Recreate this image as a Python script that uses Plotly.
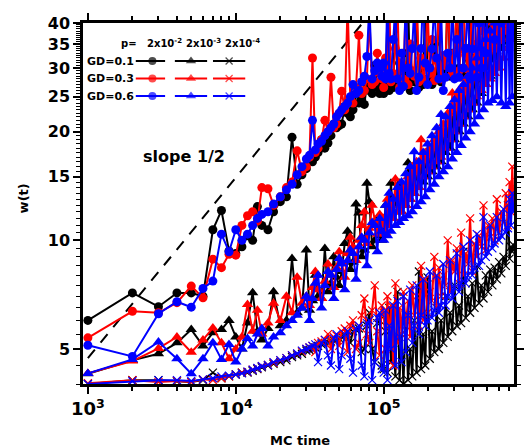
import plotly.graph_objects as go

# ---------------- data ----------------
T = [1000, 2000, 3000, 4000, 5000, 6000, 7000, 8000, 9000, 10000,
     11000, 12000, 13000, 14000, 15000, 16500, 18000, 20000, 22000, 24000,
     26000, 28000, 30000, 31500, 33000, 34500, 36000, 38000, 40000, 42000,
     44000, 46000, 48000, 50000, 52000, 54500, 57000, 59500, 62000, 65000,
     68000, 71000, 74000, 77000, 80000, 83500, 87000, 90500, 94000, 97000,
     100000, 103000, 106000, 109000, 112000, 116000, 120000, 124000, 128000, 132000,
     136000, 141000, 146000, 151000, 156000, 161000, 167000, 173000, 179000, 185000,
     191000, 198000, 205000, 212000, 220000, 228000, 236000, 244000, 253000, 262000,
     271000, 281000, 291000, 301000, 312000, 323000, 334000, 346000, 358000, 371000,
     384000, 397000, 411000, 426000, 441000, 457000, 473000, 490000, 507000, 525000,
     543000, 562000, 582000, 603000, 624000, 646000, 669000, 692000, 710000, 725000,
     740000, 755000]

# p = 2x10^-2 (circles)
W_GD01_P2 = [6.0, 7.15, 6.55, 7.15, 7.15, 7.0, 10.7, 12.1, 9.35, 9.2,
             9.6, 10.3, 10.0, 12.4, 11.0, 10.7, 12.0, 12.8, 13.2, 19.3,
             14.3, 15.2, 15.8, 16.8, 16.5, 17.0, 17.5, 19.0, 18.0, 18.6,
             19.5, 21.0, 20.5, 20.8, 21.0, 23.5, 22.5, 22.0, 23.0, 25.5,
             24.0, 24.5, 23.8, 27.0, 26.0, 25.5, 30.5, 26.5, 25.5, 27.0,
             25.5, 27.5, 42, 26.0, 29, 26.5, 45, 27.0, 31, 26.5,
             33, 27.0, 48, 26.0, 29, 27.5, 44, 26.5, 32, 27.0,
             50, 28.0, 30, 27.0, 35, 28.5, 46, 27.5, 31, 29.0,
             52, 28.5, 33, 29.5, 47, 30.0, 55, 29.0, 34, 28.5,
             45, 30.0, 32, 28.0, 48, 30.0, 28.0, 45, 30.5, 50,
             32, 46, 33, 50, 35, 48, 36, 52, 38, 50,
             40, 55]
W_GD03_P2 = [5.37, 6.36, 6.3, 6.72, 7.47, 6.93, 8.87, 8.4, 9.15, 9.1,
             11.0, 11.7, 12.0, 11.3, 14.0, 13.9, 12.5, 13.2, 14.0, 14.5,
             17.7, 15.5, 16.0, 17.0, 32.0, 17.5, 18.0, 19.0, 21.5, 20.0,
             28.3, 20.5, 21.0, 22.5, 25.9, 23.0, 45, 24.5, 24.0, 26.5,
             37, 25.5, 26.0, 28.0, 42, 27.0, 27.5, 33.0, 29.0, 28.0,
             26.5, 32, 28, 48, 27.5, 29.0, 34, 45, 26.5, 31,
             28.0, 46, 27.0, 35, 29.5, 28.5, 50, 27.5, 32, 28,
             30.5, 45, 29.0, 36, 27.7, 31.5, 45, 28, 32.5, 30.5,
             48, 31.5, 29, 33, 46, 29.5, 34, 47, 32.6, 30,
             31.8, 50, 30.5, 35, 45, 32, 38, 50, 33, 36,
             46, 34, 42, 50, 36, 40, 48, 38, 45, 50,
             40, 48]
W_GD06_P2 = [5.12, 4.77, 6.26, 6.76, 6.53, 7.36, 7.71, 10.4, 9.3, 10.7,
             10.0, 10.4, 11.0, 11.5, 11.8, 12.0, 12.6, 13.2, 13.8, 14.3,
             15.2, 16.0, 16.8, 17.2, 21.5, 17.8, 18.5, 18.8, 19.5, 20.0,
             20.5, 21.0, 22.0, 22.5, 23.0, 23.5, 24.0, 25.0, 27.0, 25.5,
             26.0, 27.5, 28.5, 32.3, 45, 28.0, 29.5, 31.0, 30.0, 28.5,
             31, 28, 50, 29, 28, 36, 45, 28, 26, 33,
             26.7, 48, 30, 29, 34, 45, 26, 28.3, 34, 50,
             31, 27, 30, 33.9, 46, 32, 28, 45, 26, 28.3,
             33, 30, 47, 28, 36, 28.3, 50, 30, 34, 45,
             28, 33.9, 48, 28.3, 40, 30, 48, 33, 45, 42,
             50, 36, 44, 48, 40, 46, 50, 42, 45, 48,
             44, 50]

# p = 2x10^-3 (triangles)
W_GD01_P3 = [4.27, 4.65, 4.85, 5.2, 5.66, 5.1, 5.55, 5.66, 6.0, 5.4,
             5.0, 5.9, 7.16, 5.6, 5.3, 5.7, 7.2, 5.8, 6.0, 8.9,
             6.3, 6.5, 9.4, 6.4, 6.8, 8.0, 7.0, 6.9, 9.5, 7.2,
             7.6, 9.0, 7.9, 7.5, 8.2, 9.8, 10.6, 8.3, 8.7, 12.6,
             11.9, 9.0, 9.4, 14.4, 12.8, 9.6, 10.0, 11.5, 10.3, 10.0,
             10.5, 12.5, 11.0, 12.0, 14.4, 11.5, 13.0, 12.0, 14.4, 12.0,
             13.5, 12.5, 16.4, 13.0, 15.0, 13.5, 15.5, 14.0, 16.5, 14.5,
             17.0, 15.0, 17.5, 15.5, 18.0, 16.0, 19.0, 16.5, 19.5, 17.5,
             21.0, 18.0, 22.5, 19.0, 23.5, 20.0, 24.5, 21.0, 26.0, 22.0,
             27.5, 23.0, 29.0, 24.0, 31.0, 25.5, 33.5, 27.0, 36.0, 28.5,
             40.0, 30.0, 45, 32.0, 48, 34.0, 50, 36.0, 52, 38,
             55, 42]
W_GD03_P3 = [4.28, 4.63, 5.02, 5.4, 4.9, 5.3, 5.72, 5.2, 4.7, 5.0,
             5.4, 6.64, 5.6, 6.4, 5.5, 5.9, 6.7, 6.0, 7.0, 6.3,
             7.9, 6.7, 7.0, 6.6, 7.4, 8.2, 7.3, 6.9, 7.7, 8.6,
             8.0, 7.4, 8.4, 9.3, 8.7, 7.9, 9.2, 10.2, 9.6, 8.8,
             10.0, 11.0, 12.0, 9.8, 10.8, 12.5, 11.3, 10.4, 11.8, 11.0,
             11.5, 10.5, 13.0, 11.0, 12.5, 11.5, 14.8, 12.0, 13.5, 12.0,
             14.0, 12.5, 15.0, 13.0, 16.0, 13.5, 16.5, 14.0, 19.0, 15.0,
             17.5, 15.5, 18.0, 16.0, 19.0, 16.5, 20.0, 17.0, 21.0, 18.0,
             22.5, 19.0, 25.6, 20.0, 25.0, 21.0, 26.5, 22.0, 28.0, 23.0,
             29.5, 24.0, 31.0, 25.0, 33.0, 26.0, 35.0, 27.0, 37.0, 28.0,
             40, 29.0, 43, 30.0, 45, 32.0, 48, 34.0, 50, 36.0,
             54, 40]
W_GD06_P3 = [4.28, 4.68, 5.23, 4.7, 4.27, 4.7, 5.2, 4.68, 5.15, 4.6,
             5.0, 5.35, 5.1, 5.5, 5.7, 5.1, 5.4, 5.55, 5.8, 6.0,
             6.2, 6.5, 7.0, 6.0, 6.9, 7.6, 8.0, 6.5, 7.5, 8.2,
             8.0, 6.9, 8.3, 8.9, 8.6, 7.3, 8.8, 9.4, 9.2, 7.8,
             9.6, 10.2, 10.0, 8.5, 10.5, 11.2, 11.0, 9.3, 11.5, 10.6,
             10.0, 12.5, 10.3, 13.5, 10.6, 13.0, 11.0, 14.0, 11.2, 14.5,
             11.5, 15.3, 11.7, 16.0, 12.0, 17.6, 12.4, 16.5, 12.8, 17.5,
             13.2, 18.5, 13.8, 19.5, 14.3, 20.5, 15.0, 22.3, 15.5, 22.0,
             16.0, 23.5, 16.8, 24.5, 17.5, 26.0, 18.3, 27.0, 19.2, 28.5,
             20.0, 30.0, 21.0, 32.0, 22.0, 34.0, 23.0, 36.0, 24.0, 38.0,
             24.4, 40, 25.0, 43, 24.0, 45, 23.5, 48, 24.0, 46,
             25.0, 50]

# p = 2x10^-4 (crosses)
W_GD01_P4 = [4.0, 4.1, 4.1, 4.07, 4.05, 4.1, 4.3, 4.15, 4.2, 4.25,
             4.3, 4.3, 4.35, 4.4, 4.45, 4.5, 4.55, 4.6, 4.65, 4.75,
             4.8, 4.85, 4.95, 4.97, 5.0, 5.05, 5.1, 5.15, 5.2, 5.22,
             5.25, 5.27, 5.3, 5.35, 5.4, 5.45, 5.5, 5.2, 5.6, 5.65,
             5.7, 4.9, 5.0, 5.8, 6.3, 5.0, 4.6, 5.9, 6.0, 4.5,
             4.4, 5.6, 4.3, 6.5, 4.6, 5.2, 4.2, 7.2, 4.1, 5.5,
             4.0, 6.2, 4.1, 5.0, 4.2, 6.0, 4.3, 8.2, 4.4, 5.5,
             4.5, 7.9, 4.7, 5.6, 4.9, 6.5, 5.0, 6.0, 5.2, 7.0,
             5.4, 6.3, 5.6, 7.5, 5.8, 6.6, 5.9, 9.3, 6.1, 7.0,
             6.3, 7.6, 6.5, 8.5, 6.7, 7.5, 6.9, 8.0, 7.2, 8.3,
             7.5, 8.4, 7.8, 8.7, 8.1, 9.0, 8.5, 12.5, 8.9, 9.6,
             9.3, 9.7]
W_GD03_P4 = [4.02, 4.1, 4.05, 4.08, 4.05, 4.12, 4.1, 4.15, 4.2, 4.25,
             4.3, 4.32, 4.38, 4.42, 4.48, 4.52, 4.58, 4.65, 4.72, 4.8,
             4.85, 4.92, 5.0, 5.05, 5.1, 4.9, 5.2, 5.25, 5.3, 5.5,
             5.0, 5.4, 5.45, 5.1, 5.6, 5.7, 4.9, 5.8, 6.0, 5.0,
             5.2, 6.2, 6.9, 5.5, 5.2, 6.4, 7.5, 5.6, 4.8, 6.6,
             6.3, 5.0, 7.0, 5.2, 6.6, 4.5, 7.6, 5.2, 6.5, 5.5,
             7.2, 5.8, 6.8, 5.4, 7.5, 6.2, 7.0, 5.8, 8.5, 6.0,
             7.8, 6.3, 7.2, 6.8, 9.0, 6.5, 8.4, 7.0, 8.0, 7.5,
             10.0, 7.2, 8.8, 8.2, 9.5, 7.6, 10.5, 8.0, 9.2, 8.6,
             11.5, 8.2, 9.8, 9.0, 10.3, 9.6, 12.5, 9.4, 11.0, 10.2,
             11.5, 10.0, 13.0, 10.5, 12.0, 11.2, 13.5, 11.0, 14.5, 12.0,
             16.0, 12.5]
W_GD06_P4 = [4.0, 4.07, 4.1, 4.1, 4.08, 4.12, 4.15, 4.2, 4.22, 4.25,
             4.28, 4.33, 4.38, 4.43, 4.48, 4.52, 4.6, 4.66, 4.72, 4.8,
             4.86, 4.95, 5.0, 5.05, 5.1, 5.15, 4.6, 5.2, 5.3, 4.8,
             4.5, 5.35, 5.5, 4.4, 4.8, 5.5, 5.6, 4.7, 4.3, 5.7,
             5.8, 4.5, 4.2, 5.9, 6.0, 4.1, 4.6, 6.1, 6.3, 4.4,
             4.3, 6.4, 4.1, 5.8, 5.0, 6.6, 4.5, 6.8, 5.4, 4.6,
             7.0, 4.9, 6.2, 7.3, 5.2, 5.8, 7.5, 5.5, 6.2, 7.8,
             5.8, 6.0, 8.2, 6.1, 6.4, 8.0, 6.3, 6.6, 8.6, 6.6,
             7.0, 8.8, 6.9, 7.4, 9.2, 7.2, 7.6, 9.6, 7.6, 8.0,
             10.0, 8.0, 8.4, 10.4, 8.5, 8.8, 11.6, 9.0, 9.3, 11.0,
             9.5, 9.8, 11.6, 10.0, 10.3, 12.2, 10.5, 10.8, 13.0, 11.0,
             13.5, 12.0]

# slope 1/2 guide line
SLOPE_T = [1000, 72000]
SLOPE_W = [4.72, 40.0]

GD_LABELS = ["GD=0.1", "GD=0.3", "GD=0.6"]
P_LABELS = ["2x10<sup>-2</sup>", "2x10<sup>-3</sup>", "2x10<sup>-4</sup>"]
X_TICKS = [1e3, 1e4, 1e5]
X_TICKTEXT = ["10<sup>3</sup>", "10<sup>4</sup>", "10<sup>5</sup>"]
Y_TICKS = [5, 10, 15, 20, 25, 30, 35, 40]

SERIES = [
    [W_GD01_P2, W_GD01_P3, W_GD01_P4],
    [W_GD03_P2, W_GD03_P3, W_GD03_P4],
    [W_GD06_P2, W_GD06_P3, W_GD06_P4],
]
for row in SERIES:
    for w in row:
        assert len(w) == len(T), (len(w), len(T))

# ---------------- styling ----------------
COLORS = ["#000000", "#ff0000", "#0000ff"]
SYMBOLS = ["circle", "triangle-up", "x-thin"]
SIZES = [9, 10, 8]
FONT = "DejaVu Sans"

fig = go.Figure()

fig.add_trace(go.Scatter(x=SLOPE_T, y=SLOPE_W, mode="lines",
                         line=dict(color="black", width=2, dash="11px,9px"),
                         hoverinfo="skip", showlegend=False))


def marker_for(j, c):
    if SYMBOLS[j] == "x-thin":
        return dict(symbol="x-thin", size=SIZES[j], color=c, line=dict(color=c, width=1.2))
    return dict(symbol=SYMBOLS[j], size=SIZES[j], color=c, line=dict(width=0))


for i, row in enumerate(SERIES):
    for j, w in enumerate(row):
        c = COLORS[i]
        fig.add_trace(go.Scatter(x=T, y=w, mode="lines+markers",
                                 line=dict(color=c, width=2),
                                 marker=marker_for(j, c),
                                 showlegend=False))

# ---------------- hand-drawn legend on pixel overlay axes ----------------
PX_L, PX_R, PX_T, PX_B = 83, 524, 23, 384
ROW_Y = [61, 78.5, 96]
SAMPLE_X = [(137, 154, 167), (177, 193.5, 210), (216, 232.5, 249)]
for i in range(3):
    for j in range(3):
        c = COLORS[i]
        fig.add_trace(go.Scatter(
            x=list(SAMPLE_X[j]),
            y=[ROW_Y[i]] * 3, xaxis="x2", yaxis="y2",
            mode="lines+markers", line=dict(color=c, width=2),
            marker=dict(marker_for(j, c), size=[0, SIZES[j] - 1, 0]),
            hoverinfo="skip", showlegend=False))

ann = []
for i in range(3):
    ann.append(dict(x=137, y=ROW_Y[i], xref="x2", yref="y2", text=GD_LABELS[i],
                    xanchor="right", yanchor="middle", showarrow=False,
                    font=dict(family=FONT, size=11, color="black", weight="bold")))
ann.append(dict(x=130.5, y=43, xref="x2", yref="y2", text="p=", xanchor="center",
                yanchor="middle", showarrow=False,
                font=dict(family=FONT, size=10, color="black", weight="bold")))
for j in range(3):
    ann.append(dict(x=[166, 206, 246][j], y=43, xref="x2", yref="y2", text=P_LABELS[j],
                    xanchor="center", yanchor="middle", showarrow=False,
                    font=dict(family=FONT, size=10, color="black", weight="bold")))
ann.append(dict(x=186, y=156, xref="x2", yref="y2", text="slope 1/2",
                xanchor="center", yanchor="middle", showarrow=False,
                font=dict(family=FONT, size=16, color="black", weight="bold")))
W_PLOT = PX_R - PX_L
H_PLOT = PX_B - PX_T
ann.append(dict(x=(22 - PX_L) / W_PLOT, y=(PX_B - 198) / H_PLOT, xref="paper", yref="paper",
                text="w(t)", textangle=-90, xanchor="center", yanchor="middle",
                showarrow=False, font=dict(family=FONT, size=13, color="black", weight="bold")))
ann.append(dict(x=(305 - PX_L) / W_PLOT, y=(PX_B - 440) / H_PLOT, xref="paper", yref="paper",
                text="MC time", xanchor="center", yanchor="middle",
                showarrow=False, font=dict(family=FONT, size=13, color="black", weight="bold")))

x_minor = [m * 10 ** e for e in (3, 4, 5) for m in range(2, 10)]
y_minor = [4 + 0.5 * k for k in range(73)]

fig.update_layout(
    width=524, height=448,
    margin=dict(l=PX_L, r=524 - PX_R, t=PX_T, b=448 - PX_B),
    paper_bgcolor="white", plot_bgcolor="white",
    showlegend=False,
    annotations=ann,
    xaxis=dict(type="log", range=[2.967, 5.881], showgrid=False, zeroline=False,
               showline=True, linecolor="black", linewidth=2.5, mirror="ticks",
               ticks="outside", ticklen=7, tickwidth=2, tickcolor="black",
               tickvals=X_TICKS, ticktext=X_TICKTEXT,
               tickfont=dict(family=FONT, size=18, color="black", weight="bold"),
               minor=dict(tickvals=x_minor, ticks="outside", ticklen=4, tickwidth=1.5,
                          tickcolor="black", showgrid=False)),
    yaxis=dict(type="log", range=[0.60206, 1.60206], showgrid=False, zeroline=False,
               showline=True, linecolor="black", linewidth=2.5, mirror="ticks",
               ticks="outside", ticklen=7, tickwidth=2, tickcolor="black",
               tickvals=Y_TICKS, ticktext=[str(v) for v in Y_TICKS],
               tickfont=dict(family=FONT, size=16, color="black", weight="bold"),
               minor=dict(tickvals=y_minor, ticks="outside", ticklen=4, tickwidth=1.2,
                          tickcolor="black", showgrid=False)),
    xaxis2=dict(overlaying="x", anchor="y2", range=[PX_L, PX_R], visible=False,
                fixedrange=True),
    yaxis2=dict(overlaying="y", anchor="x2", range=[PX_B, PX_T], visible=False,
                fixedrange=True),
)

fig.write_html("out.html")
